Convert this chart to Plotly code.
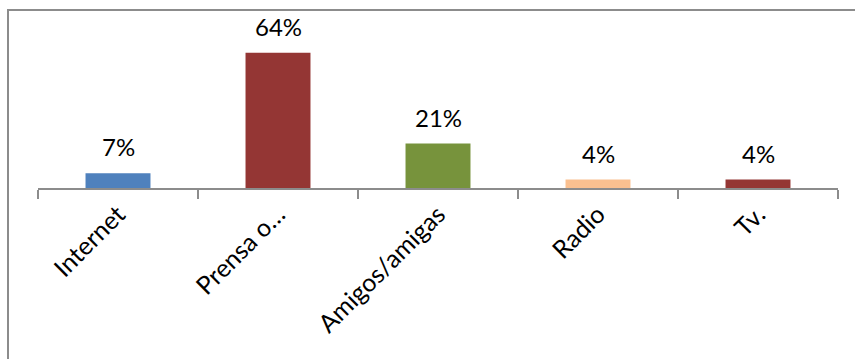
import plotly.graph_objects as go

categories = ["Internet", "Prensa o…", "Amigos/amigas", "Radio", "Tv."]
percentages = [7, 64, 21, 4, 4]
bar_colors = ["#4F81BD", "#943634", "#77933C", "#FAC090", "#943634"]
value_labels = [f"{v}%" for v in percentages]

FONT = "Lato"

fig = go.Figure(
    go.Bar(
        x=categories,
        y=percentages,
        marker=dict(color=bar_colors, line=dict(width=0)),
        hoverinfo="skip",
    )
)

for cat, val, lab in zip(categories, percentages, value_labels):
    fig.add_annotation(
        x=cat, y=val, text=lab, showarrow=False,
        yanchor="bottom", yshift=10,
        font=dict(family=FONT, size=24, color="#000000"),
    )

# chart-area frame (runs off the right and bottom edges)
fig.add_shape(
    type="rect", xref="paper", yref="paper",
    x0=-0.0375, x1=1.2, y0=-2.0, y1=1.2027,
    line=dict(color="#8C8C8C", width=2), fillcolor="rgba(0,0,0,0)",
    layer="below",
)

fig.update_layout(
    width=855, height=359,
    margin=dict(l=38, r=17, t=40, b=171),
    paper_bgcolor="white", plot_bgcolor="white",
    bargap=0.594,
    showlegend=False,
    xaxis=dict(
        type="category",
        showline=True, linecolor="#8C8C8C", linewidth=2,
        ticks="outside", tickson="boundaries", ticklen=9,
        tickcolor="#8C8C8C", tickwidth=2,
        tickangle=-45,
        tickfont=dict(family=FONT, size=25, color="#000000"),
        showgrid=False, zeroline=False, fixedrange=True,
    ),
    yaxis=dict(range=[0, 70], visible=False, fixedrange=True),
)

fig.write_html("out.html")
